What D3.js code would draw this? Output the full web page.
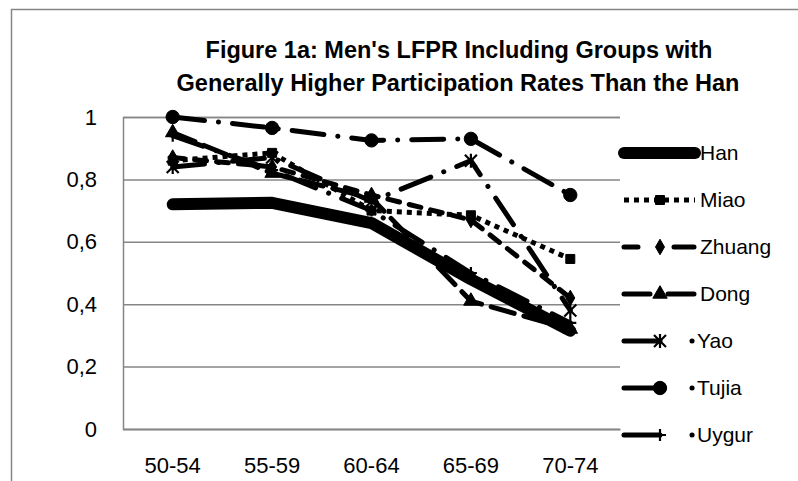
<!DOCTYPE html>
<html>
<head>
<meta charset="utf-8">
<script src="https://cdn.jsdelivr.net/npm/d3@7"></script>
<style>
  body { margin: 0; background: #fff; }
  text { font-family: "Liberation Sans", Arial, sans-serif; fill: #000; }
</style>
</head>
<body>
<script>
// Data
var categories = ["50-54", "55-59", "60-64", "65-69", "70-74"];
var seriesNames = ["Han", "Miao", "Zhuang", "Dong", "Yao", "Tujia", "Uygur"];
var han    = [0.72, 0.725, 0.66, 0.48, 0.315];
var miao   = [0.86, 0.885, 0.70, 0.685, 0.545];
var zhuang = [0.87, 0.84, 0.75, 0.67, 0.42];
var dong   = [0.95, 0.82, 0.74, 0.41, 0.32];
var yao    = [0.84, 0.87, 0.73, 0.86, 0.38];
var tujia  = [1.0, 0.965, 0.925, 0.93, 0.75];
var uygur  = [0.94, 0.83, 0.70, 0.50, 0.34];
var yTicks = [0, 0.2, 0.4, 0.6, 0.8, 1];

var values = [han, miao, zhuang, dong, yao, tujia, uygur];

// line styles per series (width, dash, cap, marker, legend dash)
var styles = [
  {w: 12, dash: null, cap: "round", marker: null, ldash: null},
  {w: 5, dash: "5,5", cap: "butt", marker: "square", ldash: "5,5"},
  {w: 5, dash: "12,10", cap: "round", marker: "diamond", ldash: "14,36,20,20"},
  {w: 5, dash: "24,10", cap: "round", marker: "triangle", ldash: "26,18"},
  {w: 5, dash: "32,14,0.1,14", cap: "round", marker: "star", ldash: "36,32,0.1,40"},
  {w: 5, dash: "32,14,0.1,14", cap: "round", marker: "circle", ldash: "36,32,0.1,40"},
  {w: 5, dash: "32,14,0.1,14", cap: "round", marker: "plus", ldash: "36,32,0.1,40"}
];

var W = 798, H = 481;
var plotL = 123, plotR = 620, plotT = 117, plotB = 429;

var svg = d3.select("body").append("svg").attr("width", W).attr("height", H);
svg.append("rect").attr("width", W).attr("height", H).attr("fill", "#fff");

// outer chart frame (cut off on right and bottom)
svg.append("path").attr("d", "M11.5," + H + "V9.5H" + W)
  .attr("fill", "none").attr("stroke", "#868686").attr("stroke-width", 1.5);

// title
var title = svg.append("text").attr("text-anchor", "middle")
  .style("font-weight", "bold").style("font-size", "23.5px");
title.append("tspan").attr("x", 459).attr("y", 58).text("Figure 1a:  Men's LFPR Including Groups with");
title.append("tspan").attr("x", 458).attr("y", 91).text("Generally Higher Participation Rates Than the Han");

var x = d3.scaleBand().domain(categories).range([plotL, plotR]);
var y = d3.scaleLinear().domain([0, 1]).range([plotB, plotT]);
var cx = function(c) { return x(c) + x.bandwidth() / 2; };

// y axis with gridlines
var yAxis = svg.append("g").attr("transform", "translate(" + plotL + ",0)")
  .call(d3.axisLeft(y).tickValues(yTicks).tickSize(-(plotR - plotL)).tickPadding(26)
    .tickFormat(function(d) { return String(d).replace(".", ","); }));
yAxis.select(".domain").attr("stroke", "#868686").attr("stroke-width", 1.5);
yAxis.selectAll(".tick line").attr("stroke", "#868686").attr("stroke-width", 1.5);
yAxis.selectAll("text").style("font-size", "22px").style("font-family", "'Liberation Sans', Arial, sans-serif");

// x axis
var xAxis = svg.append("g").attr("transform", "translate(0," + plotB + ")")
  .call(d3.axisBottom(x).tickSize(0).tickPadding(28));
xAxis.select(".domain").attr("stroke", "#868686").attr("stroke-width", 1.5);
xAxis.selectAll("text").style("font-size", "22px").style("font-family", "'Liberation Sans', Arial, sans-serif");

function markerPath(type) {
  if (type == "square") return d3.symbol(d3.symbolSquare, 81)();
  if (type == "diamond") return d3.symbol(d3.symbolDiamond, 70)();
  if (type == "triangle") return d3.symbol(d3.symbolTriangle, 90)();
  if (type == "circle") return d3.symbol(d3.symbolCircle, 140)();
  if (type == "star") return "M0,-7V7M-6,-6L6,6M-6,6L6,-6";
  if (type == "plus") return "M0,-6V6M-6,0H6";
  return null;
}

function drawMarker(g, type, px, py) {
  var m = g.append("path").attr("d", markerPath(type))
    .attr("transform", "translate(" + px + "," + py + ")");
  if (type == "star" || type == "plus") {
    m.attr("fill", "none").attr("stroke", "#000").attr("stroke-width", 2.2);
  } else {
    m.attr("fill", "#000").attr("stroke", "#000").attr("stroke-width", 1);
  }
}

var line = d3.line()
  .x(function(d, i) { return cx(categories[i]); })
  .y(function(d) { return y(d); });

// series
values.forEach(function(vals, si) {
  var st = styles[si];
  var g = svg.append("g");
  g.append("path").datum(vals).attr("d", line)
    .attr("fill", "none").attr("stroke", "#000")
    .attr("stroke-width", st.w)
    .attr("stroke-linecap", st.cap).attr("stroke-linejoin", "round")
    .attr("stroke-dasharray", st.dash);
  if (st.marker) {
    vals.forEach(function(v, i) { drawMarker(g, st.marker, cx(categories[i]), y(v)); });
  }
});

// legend
var legendY = [153, 200, 247, 294, 341, 388, 435];
seriesNames.forEach(function(name, si) {
  var st = styles[si];
  var g = svg.append("g").attr("transform", "translate(0," + legendY[si] + ")");
  g.append("line").attr("x1", 624).attr("x2", 695).attr("y1", 0).attr("y2", 0)
    .attr("stroke", "#000").attr("stroke-width", st.w)
    .attr("stroke-linecap", st.cap)
    .attr("stroke-dasharray", st.ldash);
  if (st.marker) drawMarker(g, st.marker, 660, 0);
  g.append("text").attr("x", si >= 4 ? 697 : 700).attr("y", 0).attr("dy", "0.35em")
    .style("font-size", "21px").text(name);
});
</script>
</body>
</html>
